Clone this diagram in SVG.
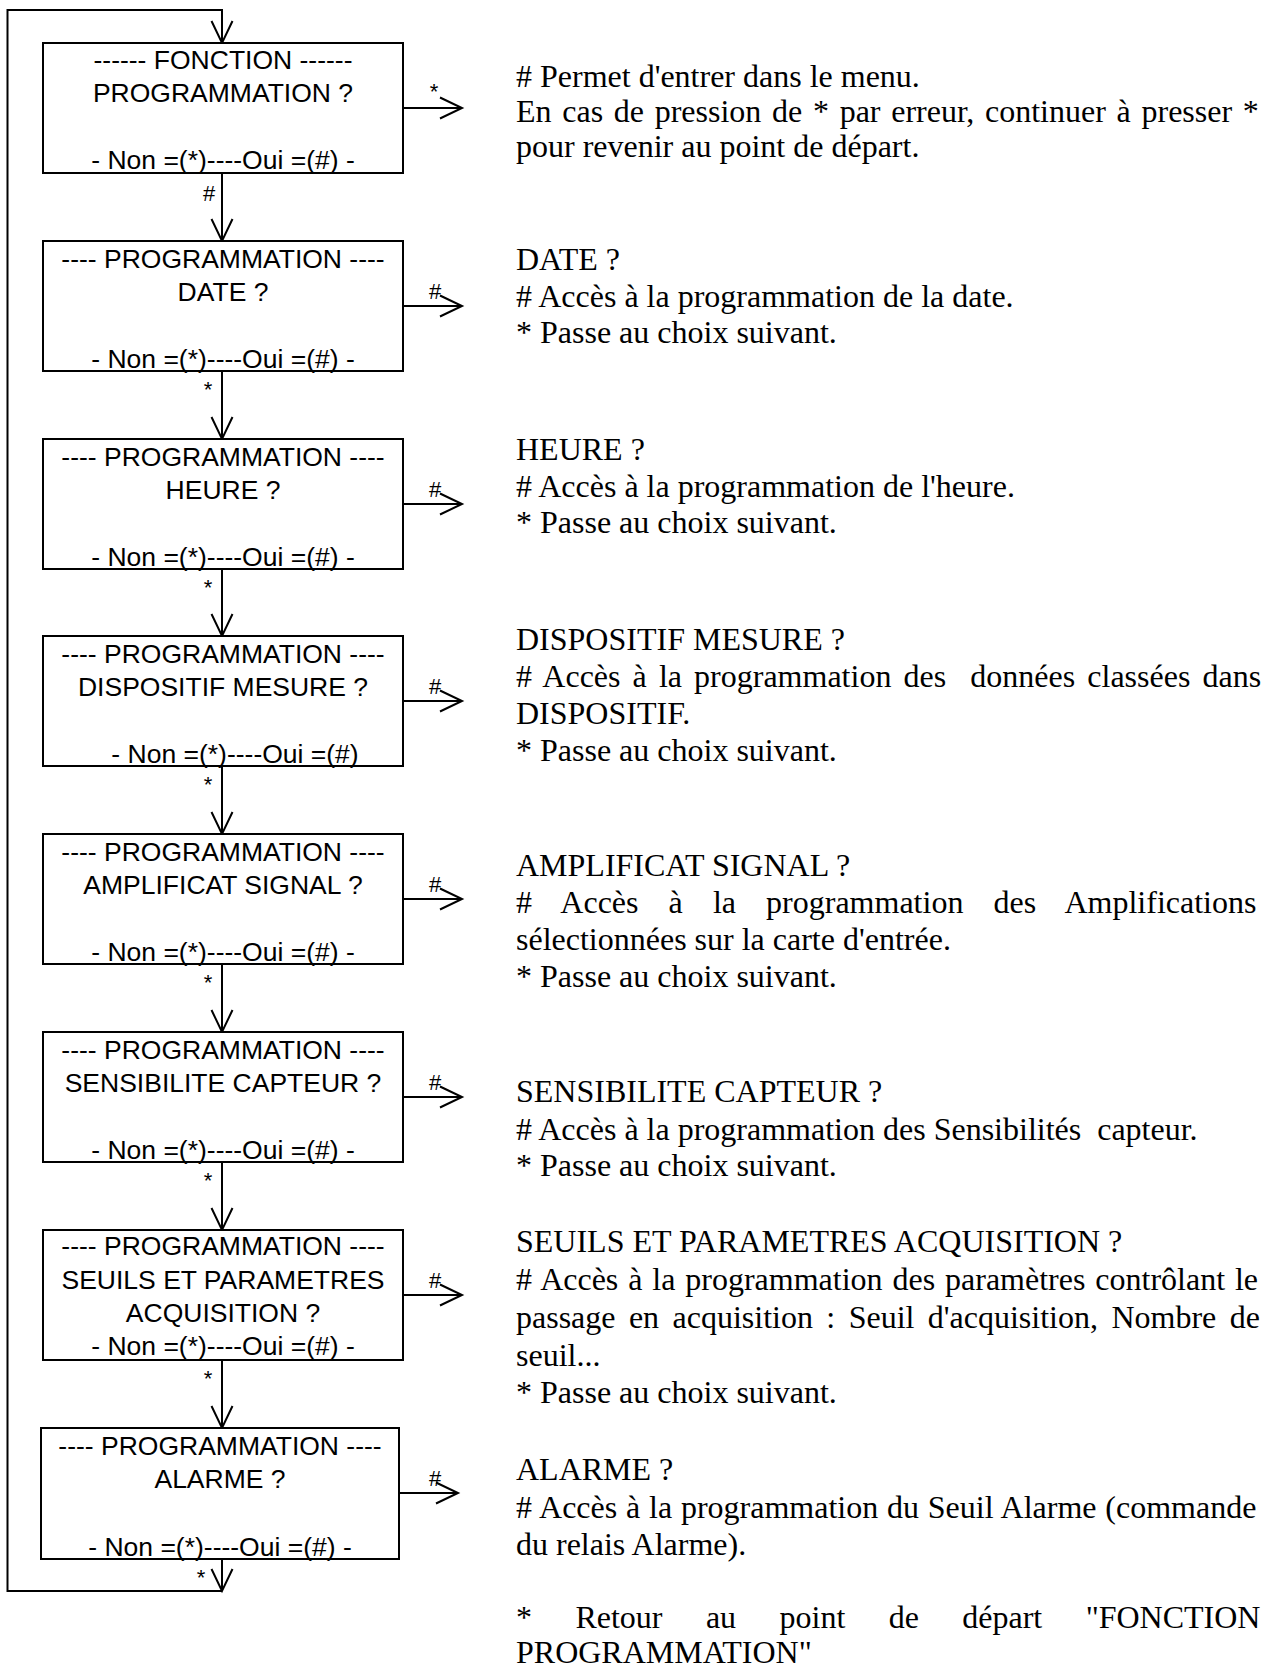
<svg xmlns="http://www.w3.org/2000/svg" width="1276" height="1668" viewBox="0 0 1276 1668">
<style>
.box{fill:#fff;stroke:#000;stroke-width:2}
.bt{font-family:"Liberation Sans",Arial,sans-serif;font-size:26.5px;text-anchor:middle;fill:#000}
.lbl{font-family:"Liberation Sans",Arial,sans-serif;font-size:22px;text-anchor:middle;fill:#000}
.note{font-family:"Liberation Serif","Times New Roman",serif;font-size:32px;fill:#000;white-space:pre}
.ln{fill:none;stroke:#000;stroke-width:2}
</style>
<defs>
<marker id="ah" markerUnits="userSpaceOnUse" markerWidth="40" markerHeight="40" refX="0" refY="0" orient="auto" overflow="visible">
<path d="M-22,-10.5 L0,0 L-22,10.5" fill="none" stroke="#000" stroke-width="2"/>
</marker>
</defs>
<rect width="1276" height="1668" fill="#fff"/>

<g id="connectors">
<path class="ln" d="M222,1591 H7.5 V10 H222 V43" marker-end="url(#ah)"/>
<path class="ln" d="M222,173 V241" marker-end="url(#ah)"/>
<path class="ln" d="M222,371 V439" marker-end="url(#ah)"/>
<path class="ln" d="M222,569 V636" marker-end="url(#ah)"/>
<path class="ln" d="M222,766 V834" marker-end="url(#ah)"/>
<path class="ln" d="M222,964 V1032" marker-end="url(#ah)"/>
<path class="ln" d="M222,1162 V1230" marker-end="url(#ah)"/>
<path class="ln" d="M222,1360 V1428" marker-end="url(#ah)"/>
<path class="ln" d="M222,1559 V1591" marker-end="url(#ah)"/>
<path class="ln" d="M403,108 H462" marker-end="url(#ah)"/>
<path class="ln" d="M403,306 H462" marker-end="url(#ah)"/>
<path class="ln" d="M403,504 H462" marker-end="url(#ah)"/>
<path class="ln" d="M403,701 H462" marker-end="url(#ah)"/>
<path class="ln" d="M403,899 H462" marker-end="url(#ah)"/>
<path class="ln" d="M403,1097 H462" marker-end="url(#ah)"/>
<path class="ln" d="M403,1295 H462" marker-end="url(#ah)"/>
<path class="ln" d="M399,1493 H458" marker-end="url(#ah)"/>
<text class="lbl" x="209" y="201">#</text>
<text class="lbl" x="208" y="397">*</text>
<text class="lbl" x="208" y="595">*</text>
<text class="lbl" x="208" y="792">*</text>
<text class="lbl" x="208" y="990">*</text>
<text class="lbl" x="208" y="1188">*</text>
<text class="lbl" x="208" y="1386">*</text>
<text class="lbl" x="201" y="1585">*</text>
<text class="lbl" x="434" y="99">*</text>
<text class="lbl" x="435" y="299">#</text>
<text class="lbl" x="435" y="497">#</text>
<text class="lbl" x="435" y="694">#</text>
<text class="lbl" x="435" y="892">#</text>
<text class="lbl" x="435" y="1090">#</text>
<text class="lbl" x="435" y="1288">#</text>
<text class="lbl" x="435" y="1486">#</text>
</g>

<g id="n1">
<rect class="box" x="43" y="43" width="360" height="130"/>
<text class="bt" x="223" y="69">------ FONCTION ------</text>
<text class="bt" x="223" y="102">PROGRAMMATION ?</text>
<text class="bt" x="223" y="169">- Non =(*)----Oui =(#) -</text>
</g>
<g id="n2">
<rect class="box" x="43" y="241" width="360" height="130"/>
<text class="bt" x="223" y="268">---- PROGRAMMATION ----</text>
<text class="bt" x="223" y="301">DATE ?</text>
<text class="bt" x="223" y="368">- Non =(*)----Oui =(#) -</text>
</g>
<g id="n3">
<rect class="box" x="43" y="439" width="360" height="130"/>
<text class="bt" x="223" y="466">---- PROGRAMMATION ----</text>
<text class="bt" x="223" y="499">HEURE ?</text>
<text class="bt" x="223" y="566">- Non =(*)----Oui =(#) -</text>
</g>
<g id="n4">
<rect class="box" x="43" y="636" width="360" height="130"/>
<text class="bt" x="223" y="663">---- PROGRAMMATION ----</text>
<text class="bt" x="223" y="696">DISPOSITIF MESURE ?</text>
<text class="bt" x="235" y="763">- Non =(*)----Oui =(#)</text>
</g>
<g id="n5">
<rect class="box" x="43" y="834" width="360" height="130"/>
<text class="bt" x="223" y="861">---- PROGRAMMATION ----</text>
<text class="bt" x="223" y="894">AMPLIFICAT SIGNAL ?</text>
<text class="bt" x="223" y="961">- Non =(*)----Oui =(#) -</text>
</g>
<g id="n6">
<rect class="box" x="43" y="1032" width="360" height="130"/>
<text class="bt" x="223" y="1059">---- PROGRAMMATION ----</text>
<text class="bt" x="223" y="1092">SENSIBILITE CAPTEUR ?</text>
<text class="bt" x="223" y="1159">- Non =(*)----Oui =(#) -</text>
</g>
<g id="n7">
<rect class="box" x="43" y="1230" width="360" height="130"/>
<text class="bt" x="223" y="1255">---- PROGRAMMATION ----</text>
<text class="bt" x="223" y="1289">SEUILS ET PARAMETRES</text>
<text class="bt" x="223" y="1322">ACQUISITION ?</text>
<text class="bt" x="223" y="1355">- Non =(*)----Oui =(#) -</text>
</g>
<g id="n8">
<rect class="box" x="41" y="1428" width="358" height="131"/>
<text class="bt" x="220" y="1455">---- PROGRAMMATION ----</text>
<text class="bt" x="220" y="1488">ALARME ?</text>
<text class="bt" x="220" y="1556">- Non =(*)----Oui =(#) -</text>
</g>

<g id="notes">
<text class="note" x="516" y="87"># Permet d'entrer dans le menu.</text>
<text class="note" x="516" y="122" word-spacing="2.7">En cas de pression de * par erreur, continuer à presser *</text>
<text class="note" x="516" y="157">pour revenir au point de départ.</text>

<text class="note" x="516" y="270">DATE ?</text>
<text class="note" x="516" y="307"># Accès à la programmation de la date.</text>
<text class="note" x="516" y="343">* Passe au choix suivant.</text>

<text class="note" x="516" y="460">HEURE ?</text>
<text class="note" x="516" y="497"># Accès à la programmation de l'heure.</text>
<text class="note" x="516" y="533">* Passe au choix suivant.</text>

<text class="note" x="516" y="650">DISPOSITIF MESURE ?</text>
<text class="note" x="516" y="687" word-spacing="4.1"># Accès à la programmation des  données classées dans</text>
<text class="note" x="516" y="724">DISPOSITIF.</text>
<text class="note" x="516" y="761">* Passe au choix suivant.</text>

<text class="note" x="516" y="876">AMPLIFICAT SIGNAL ?</text>
<text class="note" x="516" y="913" word-spacing="22.1"># Accès à la programmation des Amplifications</text>
<text class="note" x="516" y="950">sélectionnées sur la carte d'entrée.</text>
<text class="note" x="516" y="987">* Passe au choix suivant.</text>

<text class="note" x="516" y="1102">SENSIBILITE CAPTEUR ?</text>
<text class="note" x="516" y="1140"># Accès à la programmation des Sensibilités  capteur.</text>
<text class="note" x="516" y="1176">* Passe au choix suivant.</text>

<text class="note" x="516" y="1252">SEUILS ET PARAMETRES ACQUISITION ?</text>
<text class="note" x="516" y="1290" word-spacing="1.9"># Accès à la programmation des paramètres contrôlant le</text>
<text class="note" x="516" y="1328" word-spacing="5.4">passage en acquisition : Seuil d'acquisition, Nombre de</text>
<text class="note" x="516" y="1366">seuil...</text>
<text class="note" x="516" y="1403">* Passe au choix suivant.</text>

<text class="note" x="516" y="1480">ALARME ?</text>
<text class="note" x="516" y="1518" word-spacing="0.8"># Accès à la programmation du Seuil Alarme (commande</text>
<text class="note" x="516" y="1555">du relais Alarme).</text>

<text class="note" x="516" y="1628" word-spacing="35.4">* Retour au point de départ "FONCTION</text>
<text class="note" x="516" y="1663">PROGRAMMATION"</text>
</g>
</svg>
